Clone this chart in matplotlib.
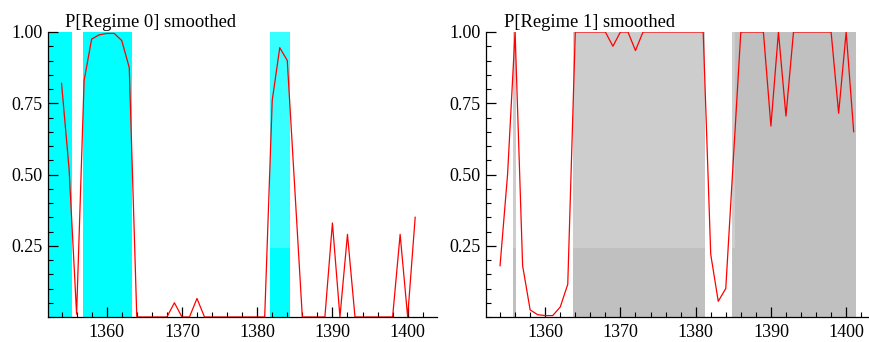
import matplotlib
matplotlib.use("Agg")
import matplotlib.pyplot as plt
from matplotlib.ticker import MultipleLocator, FixedLocator
from matplotlib.patches import Rectangle

# ---- data ----
years = list(range(1354, 1402))
p_regime0 = [0.82, 0.52, 0.01, 0.83, 0.975, 0.99, 0.995, 0.995, 0.97, 0.875,
             0.0, 0.0, 0.0, 0.0, 0.0, 0.05, 0.0, 0.0, 0.065, 0.0,
             0.0, 0.0, 0.0, 0.0, 0.0, 0.0, 0.0, 0.0, 0.76, 0.945,
             0.90, 0.45, 0.0, 0.0, 0.0, 0.0, 0.33, 0.0, 0.29, 0.0,
             0.0, 0.0, 0.0, 0.0, 0.0, 0.29, 0.0, 0.35]
p_regime1 = [0.18, 0.50, 1.0, 0.18, 0.025, 0.008, 0.005, 0.005, 0.035, 0.115,
             1.0, 1.0, 1.0, 1.0, 1.0, 0.95, 1.0, 1.0, 0.935, 1.0,
             1.0, 1.0, 1.0, 1.0, 1.0, 1.0, 1.0, 1.0, 0.22, 0.055,
             0.10, 0.55, 1.0, 1.0, 1.0, 1.0, 0.67, 1.0, 0.705, 1.0,
             1.0, 1.0, 1.0, 1.0, 1.0, 0.715, 1.0, 0.65]
regime0_start = [1352.0, 1356.8, 1381.7]
regime0_end = [1355.35, 1363.3, 1384.35]
regime1_start = [1355.73, 1363.7, 1384.8]
regime1_end = [1356.17, 1381.2, 1401.3]
titles = ["P[Regime 0] smoothed", "P[Regime 1] smoothed"]
ytick_vals = [0.25, 0.50, 0.75, 1.00]
ytick_labels = ["0.25", "0.50", "0.75", "1.00"]
xtick_vals = [1360, 1370, 1380, 1390, 1400]

W, H = 869, 342
fig = plt.figure(figsize=(W / 100, H / 100), dpi=100)
font = "Liberation Serif"
fs_tick = 13
fs_title = 13.3

def px_ax(x0, x1, ytop, ybot):
    return [x0 / W, 1 - ybot / H, (x1 - x0) / W, (ybot - ytop) / H]

ax0 = fig.add_axes(px_ax(48, 437, 32, 317))
ax1 = fig.add_axes(px_ax(486.5, 875.5, 32, 317))

panels = [
    (ax0, p_regime0, regime0_start, regime0_end, "#00ffff", titles[0]),
    (ax1, p_regime1, regime1_start, regime1_end, "#c0c0c0", titles[1]),
]

for ax, vals, starts, ends, col, title in panels:
    ax.set_xlim(1352.2, 1403.9)
    ax.set_ylim(0, 1)
    for s, e in zip(starts, ends):
        ax.axvspan(s, e, color=col, lw=0, zorder=1)
    # faint light overlay (scan watermark area)
    ax.add_patch(Rectangle((150 / W, 1 - 248 / H), (735 - 150) / W, 248 / H,
                           transform=fig.transFigure, facecolor="white",
                           alpha=0.22, lw=0, zorder=1.5))
    ax.plot(years, vals, color="#ff0000", lw=0.9, zorder=3)
    for sp in ["top", "right"]:
        ax.spines[sp].set_visible(False)
    for sp in ["left", "bottom"]:
        ax.spines[sp].set_linewidth(0.9)
        ax.spines[sp].set_zorder(4)
    ax.yaxis.set_major_locator(FixedLocator(ytick_vals))
    ax.set_yticklabels(ytick_labels)
    ax.yaxis.set_minor_locator(MultipleLocator(0.05))
    ax.xaxis.set_major_locator(FixedLocator(xtick_vals))
    ax.xaxis.set_minor_locator(MultipleLocator(2))
    ax.tick_params(which="major", direction="in", length=7, width=0.9,
                   labelsize=fs_tick, pad=4)
    ax.tick_params(which="minor", direction="in", length=3.5, width=0.8)
    ax.tick_params(axis="x", which="major", pad=5)
    for lab in ax.get_xticklabels() + ax.get_yticklabels():
        lab.set_fontfamily(font)
    ax.text(0.044, 1.018, title, transform=ax.transAxes, ha="left",
            va="baseline", fontsize=fs_title, fontfamily=font, zorder=5)
    ax.set_facecolor("white")

fig.savefig("out.png", dpi=100)
